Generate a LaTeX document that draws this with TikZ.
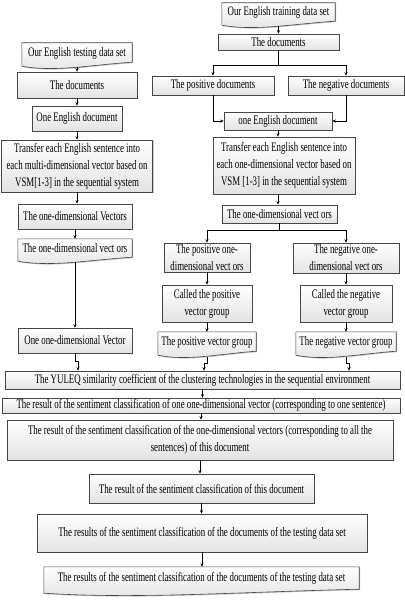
\documentclass[tikz,border=0pt]{standalone}
\usepackage{fontspec}
\setmainfont[FakeStretch=0.68]{Liberation Serif}
\usetikzlibrary{positioning,calc,arrows.meta,shadows,backgrounds}

\tikzset{
  txt/.style={inner sep=1pt, align=center, font=\fontsize{13}{17}\selectfont},
  box/.style={txt, draw=gray!55!black, line width=0.6pt, top color=white, bottom color=gray!22,
    drop shadow={shadow xshift=1pt, shadow yshift=-1pt, opacity=0.45}},
  docbox/.style={txt},
  docline/.style={draw=gray!55!black, line width=0.6pt, top color=white, bottom color=gray!22,
    drop shadow={shadow xshift=1pt, shadow yshift=-1pt, opacity=0.45}},
  arr/.style={-{Stealth[length=3.5pt,width=3pt]}, line width=0.6pt}
}
% outline with a wavy bottom, drawn behind a docbox node
\newcommand{\docwave}[1]{%
  \scoped[on background layer]
  \path[docline] (#1.north west) -- (#1.north east) -- ([yshift=1pt]#1.south east)
    .. controls ($(#1.south west)!0.6!(#1.south east)+(0,-2pt)$) and ($(#1.south west)!0.3!(#1.south east)+(0,-9pt)$)
    .. ([yshift=-3pt]#1.south west) -- cycle;}

\begin{document}
\begin{tikzpicture}[x=1pt,y=1pt]
\useasboundingbox (0,0) rectangle (404,-604);

% testing side
\node[docbox, minimum width=110pt, minimum height=20pt] (ltest) at (77,-53) {Our English testing data set};
\docwave{ltest}
\node[box, minimum width=120pt, minimum height=26pt] (ldocs) at (77,-85) {The documents};
\node[box, minimum width=90pt, minimum height=25pt] (lone) at (77,-118.5) {One English document};
\node[box, minimum width=151pt, minimum height=52pt] (ltrans) at (77,-166) {Transfer each English sentence into\\each multi-dimensional vector based on\\VSM[1-3] in the sequential system};
\node[box, minimum width=114pt, minimum height=25pt] (lvecs) at (75,-216.5) {The one-dimensional Vectors};
\node[docbox, minimum width=114pt, minimum height=19pt] (lvecdoc) at (75,-248.5) {The one-dimensional vect ors};
\docwave{lvecdoc}
\node[box, minimum width=114pt, minimum height=25pt] (lvec) at (75,-340.5) {One one-dimensional Vector};

% training side
\node[docbox, minimum width=113pt, minimum height=19pt] (rtrain) at (278.5,-12.5) {Our English training data set};
\docwave{rtrain}
\node[box, minimum width=121pt, minimum height=16pt] (rdocs) at (278.5,-42) {The documents};
\node[box, minimum width=122pt, minimum height=19pt] (rpos) at (213,-85.5) {The positive documents};
\node[box, minimum width=116pt, minimum height=19pt] (rneg) at (346,-85.5) {The negative documents};
\node[box, minimum width=108pt, minimum height=18pt] (rone) at (278,-121) {one English document};
\node[box, minimum width=142pt, minimum height=57pt] (rtrans) at (284,-165.5) {Transfer each English sentence into\\each one-dimensional vector based on\\VSM [1-3] in the sequential system};
\node[box, minimum width=115pt, minimum height=18pt] (rvecs) at (279.5,-214) {The one-dimensional vect ors};
\node[box, minimum width=86pt, minimum height=29pt] (rposv) at (207,-257.5) {The positive one-\\dimensional vect ors};
\node[box, minimum width=106pt, minimum height=30pt] (rnegv) at (346,-258) {The negative one-\\dimensional vect ors};
\node[box, minimum width=90pt, minimum height=37pt] (rposc) at (207,-303.5) {Called the positive\\vector group};
\node[box, minimum width=92pt, minimum height=37pt] (rnegc) at (346,-303.5) {Called the negative\\vector group};
\node[docbox, minimum width=98pt, minimum height=20pt] (rposg) at (207,-342) {The positive vector group};
\docwave{rposg}
\node[docbox, minimum width=100pt, minimum height=20pt] (rnegg) at (346,-342) {The negative vector group};
\docwave{rnegg}

% common part
\node[box, minimum width=395pt, minimum height=18pt] (yuleq) at (202.5,-380) {The YULEQ similarity coefficient of the clustering technologies in the sequential environment};
\node[box, minimum width=398pt, minimum height=15pt] (res1) at (201,-405.5) {The result of the sentiment classification of one one-dimensional vector (corresponding to one sentence)};
\node[box, minimum width=386pt, minimum height=40pt] (res2) at (200,-440) {The result of the sentiment classification of the one-dimensional vectors (corresponding to all the\\sentences) of this document};
\node[box, minimum width=225pt, minimum height=29pt] (res3) at (201.5,-488.5) {The result of the sentiment classification of this document};
\node[box, minimum width=330pt, minimum height=38pt] (res4) at (202,-533) {The results of the sentiment classification of the documents of the testing data set};
\node[docbox, minimum width=315pt, minimum height=23pt] (res5) at (201.5,-578.5) {The results of the sentiment classification of the documents of the testing data set};
\docwave{res5}

% connectors, testing side
\draw[arr] ([yshift=-4pt]ltest.south) -- (ltest.south |- ldocs.north);
\draw[arr] (ldocs.south) -- (ldocs.south |- lone.north);
\draw[arr] (lone.south) -- (lone.south |- ltrans.north);
\draw[arr] (ltrans.south) -- (ltrans.south |- lvecs.north);
\draw[arr] (lvecs.south) -- (lvecs.south |- lvecdoc.north);
\draw[arr] ([yshift=-4pt]lvecdoc.south) -- (lvecdoc.south |- lvec.north);
\draw[arr] (lvec.south) -- ++(0,-8) -| ([xshift=3pt]lvec.south |- yuleq.north);

% connectors, training side
\draw[arr] ([yshift=-4pt]rtrain.south) -- (rtrain.south |- rdocs.north);
\draw[arr] (rdocs.south) -- ++(0,-15) -| (rpos.north);
\draw[arr] (rdocs.south) -- ++(0,-15) -| (rneg.north);
\draw[arr] (rpos.south) |- (rone.west);
\draw[arr] (rneg.south) |- (rone.east);
\draw[arr] (rone.south) -- (rone.south |- rtrans.north);
\draw[arr] (rone.south |- rtrans.south) -- (rone.south |- rvecs.north);
\draw[arr] (rvecs.south) -- ++(0,-7) -| (rposv.north);
\draw[arr] (rvecs.south) -- ++(0,-7) -| (rnegv.north);
\draw[arr] (rposv.south) -- (rposc.north);
\draw[arr] (rnegv.south) -- (rnegc.north);
\draw[arr] (rposc.south) -- (rposg.north);
\draw[arr] (rnegc.south) -- (rnegg.north);
\draw[arr] ([yshift=-5pt]rposg.south) -- ++(0,-6) -| ([xshift=-3pt]rposg.south |- yuleq.north);
\draw[arr] ([yshift=-5pt]rnegg.south) -- ++(0,-6) -| ([xshift=3pt]rnegg.south |- yuleq.north);

% connectors, common part
\draw[arr] (yuleq.south) -- (yuleq.south |- res1.north);
\draw[arr] (res1.south) -- (res1.south |- res2.north);
\draw[arr] (res2.south) -- (res2.south |- res3.north);
\draw[arr] (res3.south) -- (res3.south |- res4.north);
\draw[arr] (res4.south) -- (res4.south |- res5.north);
\end{tikzpicture}
\end{document}
